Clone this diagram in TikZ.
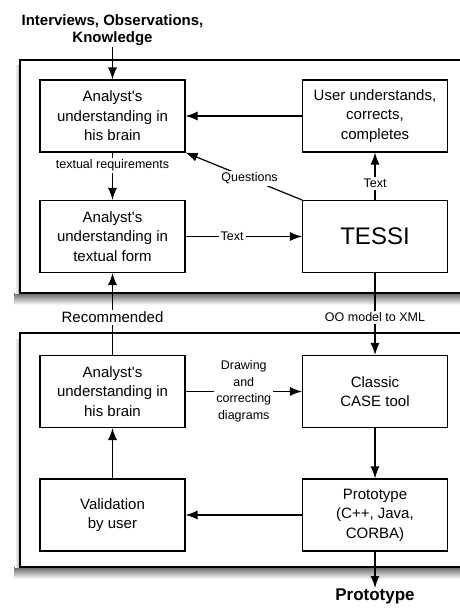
\documentclass[tikz,border=0pt]{standalone}
\usepackage{fontspec}
\setmainfont{Liberation Sans}
\usetikzlibrary{arrows.meta}
\begin{document}
\begin{tikzpicture}[x=1pt,y=-1pt,
  box/.style={draw, line width=1.1pt, minimum width=145pt, minimum height=72pt, align=center, inner sep=0pt, font=\fontsize{15}{19.5}\selectfont},
  conn/.style={line width=1.2pt, -{Latex[length=12pt,width=9pt]}},
  lbl/.style={fill=white, inner sep=2pt, align=center, font=\fontsize{12.5}{16.5}\selectfont},
  biglbl/.style={fill=white, inner sep=2pt, align=center, font=\fontsize{15}{19}\selectfont},
  ext/.style={inner sep=1pt, align=center, font=\bfseries\fontsize{15}{17}\selectfont},
  panel/.style={line width=1.5pt}
]
\useasboundingbox (0,0) rectangle (460,610);
% shadows
\shade[top color=black!60, bottom color=white] (14,293) rectangle (470,305);
\shade[left color=white, right color=black!35] (15,66) rectangle (20,293);
\shade[top color=black!60, bottom color=white] (14,567) rectangle (470,579);
\shade[left color=white, right color=black!35] (15,339) rectangle (20,567);
% panels
\fill[white] (20,60) rectangle (480,293);
\fill[white] (20,333) rectangle (480,567);
\draw[panel] (480,60) -- (20,60) -- (20,293) -- (480,293);
\draw[panel] (480,333) -- (20,333) -- (20,567) -- (480,567);

% boxes
\node[box] (brain1) at (112.5,116) {Analyst\textquotesingle s\\understanding in\\his brain};
\node[box] (user) at (375,116) {User understands,\\corrects,\\completes};
\node[box] (textual) at (112.5,236.5) {Analyst\textquotesingle s\\understanding in\\textual form};
\node[box, font=\fontsize{24}{28}\selectfont] (tessi) at (375,236.5) {TESSI};
\node[box] (brain2) at (112.5,391.5) {Analyst\textquotesingle s\\understanding in\\his brain};
\node[box] (case) at (375,391.5) {Classic\\CASE tool};
\node[box] (valid) at (112.5,515) {Validation\\by user};
\node[box] (proto) at (375,515) {Prototype\\(C++, Java,\\CORBA)};

% external labels
\node[ext, anchor=south] (src) at (112.5,47) {Interviews, Observations,\\Knowledge};
\node[ext, anchor=north, font=\bfseries\fontsize{17}{19}\selectfont] (out) at (375,588) {Prototype};

% connectors
\draw[conn] (src) -- (brain1);
\draw[conn] (user) -- (brain1);
\draw[conn] (brain1) -- node[lbl, pos=0.27] {textual requirements} (textual);
\draw[conn] (tessi.north west) -- node[lbl, pos=0.45] {Questions} (brain1.south east);
\draw[conn] (tessi) -- node[lbl, pos=0.35] {Text} (user);
\draw[conn] (textual) -- node[lbl, pos=0.4] {Text} (tessi);
\draw[conn] (brain2) -- node[biglbl, pos=0.46] {Recommended} (textual);
\draw[conn] (tessi) -- node[lbl, pos=0.54] {OO model to XML} (case);
\draw[conn] (brain2) -- node[lbl, pos=0.5] {Drawing\\and\\correcting\\diagrams} (case);
\draw[conn] (case) -- (proto);
\draw[conn] (proto) -- (valid);
\draw[conn] (valid) -- (brain2);
\draw[conn] (proto) -- (out);
\end{tikzpicture}
\end{document}
